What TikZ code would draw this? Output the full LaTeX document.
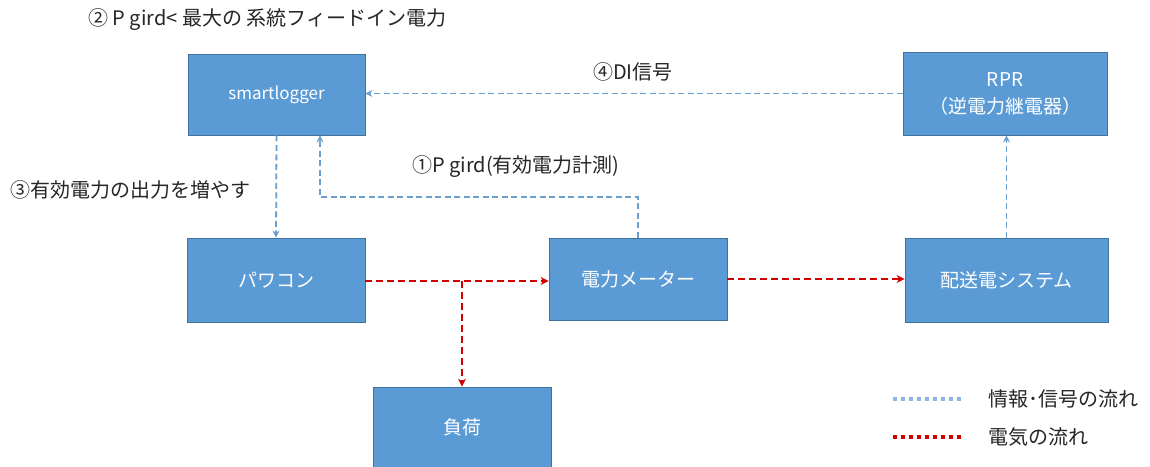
\documentclass[tikz,border=0pt]{standalone}
\usepackage{fontspec}
\setmainfont{Noto Sans CJK JP}
\usetikzlibrary{arrows.meta}
\definecolor{boxfill}{HTML}{5B9BD5}
\definecolor{boxline}{HTML}{41719C}
\definecolor{infoblue}{HTML}{6A9FD0}
\definecolor{legblue}{HTML}{8DB4E2}
\definecolor{elecred}{HTML}{D00000}
\tikzset{
  blockbox/.style={draw=boxline, fill=boxfill, line width=0.8pt, text=white, font=\fontsize{19}{27}\selectfont, align=center, inner sep=0pt},
  infoline/.style={draw=infoblue, line width=1.8pt, dash pattern=on 6pt off 3.5pt, -{Stealth[length=7pt,width=7pt]}},
  elecline/.style={draw=elecred, line width=2.4pt, dash pattern=on 7pt off 4pt, -{Stealth[length=8pt,width=8pt]}},
  lbl/.style={font=\fontsize{20}{22}\selectfont, text=black!85, inner sep=0pt, anchor=west},
}
\begin{document}
\begin{tikzpicture}[x=1pt,y=-1pt]
\useasboundingbox (0,0) rectangle (1150,466);
\fill[white] (0,0) rectangle (1150,466);
% boxes
\node[blockbox, minimum width=177pt, minimum height=81pt, font=\fontsize{17}{19}\selectfont] (sl) at (276.5,94.5) {smartlogger};
\node[blockbox, minimum width=204pt, minimum height=83pt] (rpr) at (1005,93.5) {RPR\\（逆電力継電器）};
\node[blockbox, minimum width=178pt, minimum height=84pt] (pw) at (276,280) {パワコン};
\node[blockbox, minimum width=178pt, minimum height=82pt] (mt) at (638,279) {電力メーター};
\node[blockbox, minimum width=203pt, minimum height=84pt] (hs) at (1006.5,280) {配送電システム};
\node[blockbox, minimum width=178pt, minimum height=80pt] (ld) at (462,427) {負荷};
% labels
\node[lbl] (t2) at (88,20) {② P gird< 最大の 系統フィードイン電力};
\node[lbl] (t4) at (593,72) {④DI信号};
\node[lbl] (t1) at (412,167) {①P gird(有効電力計測)};
\node[lbl] (t3) at (10,190) {③有効電力の出力を増やす};
% info connectors
\draw[infoline] (sl.south) -- (pw.north);
\coordinate (k1) at (320,197);
\draw[infoline] (mt.north) |- (k1) -- (k1 |- sl.south);
\draw[infoline] (rpr.west) -- (rpr.west -| sl.east);
\draw[infoline] (hs.north) -- (hs.north |- rpr.south);
% electric connectors
\coordinate (j) at (462,281);
\draw[elecline] (pw.east |- j) -- (j -| mt.west);
\draw[elecline] (j) -- (ld.north);
\draw[elecline] (mt.east) -- (mt.east -| hs.west);
% legend
\coordinate (la) at (893,399);
\coordinate (lb) at (962,399);
\coordinate (lc) at (893,437);
\coordinate (ld2) at (962,437);
\draw[legblue, line width=3.2pt, dash pattern=on 4pt off 4pt] (la) -- (lb);
\draw[elecred, line width=3.2pt, dash pattern=on 4pt off 4pt] (lc) -- (ld2);
\node[lbl] (lt1) at (988,399) {情報･信号の流れ};
\node[lbl] (lt2) at (988,437) {電気の流れ};
\end{tikzpicture}
\end{document}
